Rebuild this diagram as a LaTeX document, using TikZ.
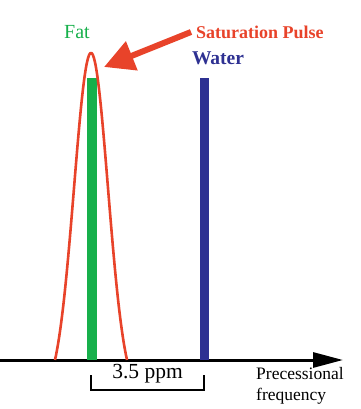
\documentclass[tikz,border=0pt]{standalone}
\usepackage{fontspec}
\setmainfont{Liberation Serif}
\usetikzlibrary{arrows.meta}
\definecolor{fatgreen}{HTML}{17B04B}
\definecolor{waterblue}{HTML}{2E3192}
\definecolor{pulsered}{HTML}{E8432A}
\tikzset{
  lbl/.style={inner sep=0pt, anchor=center},
  bar/.style={line width=10pt},
}
\begin{document}
\begin{tikzpicture}[x=1pt,y=-1pt]
\useasboundingbox (0,0) rectangle (360,409);
% axis
\coordinate (axL) at (0,360);
\coordinate (axR) at (343,360);
\draw[line width=3pt, -{Triangle[length=30pt,width=15pt]}] (axL) -- (axR);
% bars
\coordinate (fatTop) at (92,78);
\coordinate (fatBot) at (92,360);
\coordinate (watTop) at (204,78);
\coordinate (watBot) at (204,360);
\draw[bar, fatgreen] (fatBot) -- (fatTop);
\draw[bar, waterblue, line width=9pt] (watBot) -- (watTop);
% saturation pulse curve
\draw[pulsered, line width=2.6pt, line join=round]
  plot[domain=-36:36, samples=121, smooth] ({91+\x}, {360-307*(exp(-\x*\x/578)-0.106)/0.894});
% labels
\node[lbl, fatgreen, font=\fontsize{20}{22}\selectfont] (fat) at (77,32) {Fat};
\node[lbl, pulsered, font=\fontsize{18}{20}\selectfont\bfseries, anchor=west] (sat) at (196,32) {Saturation Pulse};
\node[lbl, waterblue, font=\fontsize{19.5}{22}\selectfont\bfseries] (water) at (218,58) {Water};
\coordinate (peak) at (104,67);
\draw[pulsered, line width=6pt, -{Triangle[length=30pt,width=30pt]}] ([xshift=-5pt]sat.west) -- (peak);
% ppm bracket
\coordinate (brL) at (91,375);
\coordinate (brR) at (204,375);
\draw[line width=2.3pt] (brL) -- ++(0,15) -| (brR);
\node[lbl, font=\fontsize{21.5}{24}\selectfont] (ppm) at (147.5,374) {3.5 ppm};
\node[lbl, font=\fontsize{17.5}{21}\selectfont, align=left, anchor=north west] (freq) at (256,367) {Precessional\\frequency};
\end{tikzpicture}
\end{document}
